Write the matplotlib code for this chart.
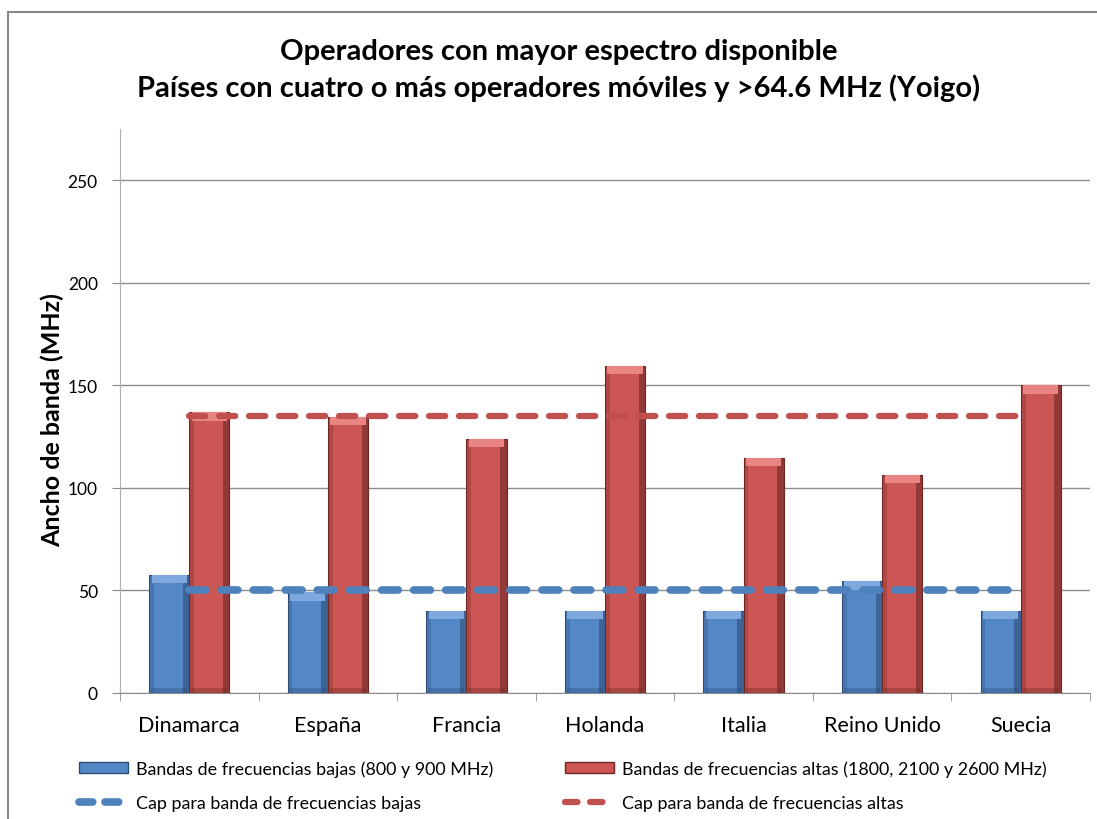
import matplotlib.pyplot as plt
import matplotlib.patches as mpatches
from matplotlib.lines import Line2D
import numpy as np

# Data
paises = ['Dinamarca', 'España', 'Francia', 'Holanda', 'Italia', 'Reino Unido', 'Suecia']
bajas = [57.4, 49, 40, 40, 40, 54.4, 40]
altas = [136.8, 134.6, 124, 159.4, 114.6, 106.4, 150]
cap_bajas = [50, 50, 50, 50, 50, 50, 50]
cap_altas = [135, 135, 135, 135, 135, 135, 135]

titulo = 'Operadores con mayor espectro disponible\nPaíses con cuatro o más operadores móviles y >64.6 MHz (Yoigo)'
etiquetas = ['Bandas de frecuencias bajas (800 y 900 MHz)',
             'Bandas de frecuencias altas (1800, 2100 y 2600 MHz)',
             'Cap para banda de frecuencias bajas',
             'Cap para banda de frecuencias altas']

plt.rcParams['font.family'] = ['Lato', 'DejaVu Sans']

azul = '#5487C6'
azul_osc = '#2E4E78'
azul_cla = '#7FA9DE'
rojo = '#CC5653'
rojo_osc = '#6E2725'
rojo_cla = '#E88582'

fig = plt.figure(figsize=(10.97, 8.2), dpi=100)
ax = fig.add_axes([0.1094, 0.1537, 0.8842, 0.6878])

# outer frame of the chart
fig.patches.append(mpatches.Rectangle((0.007, -0.01), 1.0, 0.994, transform=fig.transFigure,
                                      fill=False, edgecolor='#888888', linewidth=1.5))

x = np.arange(len(paises))
w = 0.29


def bevel_bars(xs, vals, base, dark, light):
    # main body
    ax.bar(xs, vals, w, color=base, edgecolor=dark, linewidth=0.8, zorder=3)
    # darker sides and lighter top to fake the 3D bevel
    ax.bar(xs + w * 0.42, vals, w * 0.16, color=dark, alpha=0.6, linewidth=0, zorder=4)
    ax.bar(xs - w * 0.44, vals, w * 0.12, color=dark, alpha=0.3, linewidth=0, zorder=4)
    tops = [v - 4 for v in vals]
    ax.bar(xs, [4] * len(vals), w * 0.88, bottom=tops, color=light, linewidth=0, zorder=4)
    ax.bar(xs, [2.5] * len(vals), w * 0.9, color=dark, alpha=0.35, linewidth=0, zorder=4)


bevel_bars(x - w / 2, bajas, azul, azul_osc, azul_cla)
bevel_bars(x + w / 2, altas, rojo, rojo_osc, rojo_cla)

ax.plot(x, cap_bajas, color='#4F81BD', linewidth=5.5, dashes=(2.2, 2.0),
        dash_capstyle='round', zorder=5)
ax.plot(x, cap_altas, color='#C0504D', linewidth=4.5, dashes=(2.6, 2.2),
        dash_capstyle='round', zorder=5)

ax.set_xlim(-0.5, len(paises) - 0.5)
ax.set_ylim(0, 275)
ax.set_yticks([0, 50, 100, 150, 200, 250])
ax.yaxis.grid(True, color='#8C8C8C', linewidth=1)
ax.set_axisbelow(True)
ax.set_xticks(x)
ax.set_xticklabels(paises, fontsize=15.5)
ax.set_xticks(np.arange(-0.5, len(paises)), minor=True)
ax.tick_params(axis='x', which='major', length=0, pad=16)
ax.tick_params(axis='x', which='minor', length=6, color='#8C8C8C')
ax.tick_params(axis='y', length=6, color='#8C8C8C', labelsize=12.5, pad=10)

for s in ['top', 'right']:
    ax.spines[s].set_visible(False)
ax.spines['left'].set_color('#B0B0B0')
ax.spines['bottom'].set_color('#8C8C8C')

ax.set_ylabel('Ancho de banda (MHz)', fontsize=18, fontweight='bold')
ax.yaxis.set_label_coords(-0.058, 0.485)

fig.text(0.509, 0.914, titulo, ha='center', va='center', fontsize=21,
         fontweight='bold', linespacing=1.38)

handles = [mpatches.Patch(facecolor=azul, edgecolor=azul_osc),
           mpatches.Patch(facecolor=rojo, edgecolor=rojo_osc),
           Line2D([], [], color='#4F81BD', linewidth=5.5, dashes=(1.8, 1.6), dash_capstyle='round'),
           Line2D([], [], color='#C0504D', linewidth=4.5, dashes=(2.0, 2.0), dash_capstyle='round')]
fig.legend([handles[0], handles[2], handles[1], handles[3]],
           [etiquetas[0], etiquetas[2], etiquetas[1], etiquetas[3]],
           loc='center left', bbox_to_anchor=(0.057, 0.041), ncol=2, frameon=False,
           fontsize=12.9, handlelength=2.75, handleheight=0.6, handletextpad=0.45,
           columnspacing=4.0, labelspacing=1.0)

fig.savefig('out.png', dpi=100)
